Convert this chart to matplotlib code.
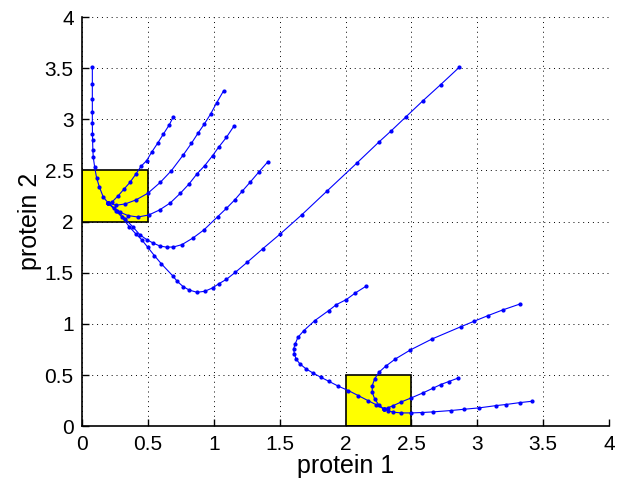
import matplotlib.pyplot as plt
from matplotlib.patches import Rectangle

plt.rcParams["font.family"] = ["Liberation Sans", "DejaVu Sans"]

# trajectories converging to the upper-left steady state
t1_p1 = [0.078, 0.078, 0.078, 0.078, 0.078, 0.079, 0.080, 0.082, 0.085, 0.096, 0.110, 0.131, 0.161, 0.200]
t1_p2 = [3.51, 3.345, 3.20, 3.07, 2.96, 2.86, 2.80, 2.70, 2.63, 2.53, 2.43, 2.34, 2.24, 2.18]

t2_p1 = [0.693, 0.663, 0.618, 0.573, 0.528, 0.490, 0.448, 0.409, 0.364, 0.319, 0.275, 0.230, 0.200]
t2_p2 = [3.026, 2.948, 2.857, 2.765, 2.678, 2.596, 2.541, 2.466, 2.384, 2.319, 2.254, 2.195, 2.180]

t3_p1 = [1.075, 1.021, 0.976, 0.928, 0.881, 0.830, 0.770, 0.678, 0.594, 0.499, 0.409, 0.328, 0.260, 0.200]
t3_p2 = [3.28, 3.16, 3.052, 2.954, 2.866, 2.765, 2.655, 2.498, 2.384, 2.277, 2.212, 2.173, 2.160, 2.180]

t4_p1 = [1.155, 1.096, 1.036, 0.991, 0.931, 0.872, 0.812, 0.746, 0.669, 0.588, 0.507, 0.424, 0.349, 0.290, 0.239, 0.200]
t4_p2 = [2.938, 2.824, 2.726, 2.645, 2.547, 2.466, 2.368, 2.277, 2.182, 2.114, 2.065, 2.045, 2.059, 2.091, 2.134, 2.180]

t5_p1 = [1.409, 1.340, 1.275, 1.215, 1.161, 1.096, 1.030, 0.925, 0.842, 0.758, 0.693, 0.643, 0.590, 0.540, 0.490, 0.440,
         0.388, 0.328, 0.269, 0.200]
t5_p2 = [2.583, 2.482, 2.384, 2.296, 2.215, 2.130, 2.049, 1.919, 1.840, 1.775, 1.752, 1.750, 1.762, 1.790, 1.825, 1.870,
         1.945, 2.026, 2.107, 2.180]

t6_p1 = [2.863, 2.722, 2.588, 2.460, 2.343, 2.251, 2.084, 1.857, 1.669, 1.504, 1.370, 1.254, 1.164, 1.096, 1.036, 0.991,
         0.931, 0.872, 0.812, 0.767, 0.722, 0.687, 0.603, 0.549, 0.499, 0.454, 0.409, 0.358, 0.304, 0.260, 0.200]
t6_p2 = [3.508, 3.339, 3.182, 3.026, 2.883, 2.775, 2.570, 2.296, 2.068, 1.879, 1.733, 1.603, 1.505, 1.436, 1.391, 1.352,
         1.319, 1.309, 1.332, 1.365, 1.417, 1.472, 1.586, 1.668, 1.749, 1.821, 1.879, 1.951, 2.042, 2.101, 2.180]

# trajectories converging to the lower-right steady state
b1_p1 = [2.155, 2.075, 2.006, 1.931, 1.872, 1.767, 1.684, 1.639, 1.618, 1.606, 1.612, 1.624, 1.654, 1.701, 1.752, 1.812,
         1.872, 1.946, 2.021, 2.096, 2.170, 2.230, 2.290]
b1_p2 = [1.368, 1.303, 1.238, 1.189, 1.130, 1.033, 0.935, 0.870, 0.805, 0.756, 0.707, 0.658, 0.609, 0.560, 0.521, 0.479,
         0.440, 0.391, 0.349, 0.300, 0.251, 0.212, 0.169]

b2_p1 = [3.325, 3.194, 3.081, 2.976, 2.878, 2.657, 2.493, 2.379, 2.304, 2.254, 2.221, 2.203, 2.203, 2.221, 2.251, 2.290]
b2_p2 = [1.195, 1.137, 1.081, 1.026, 0.974, 0.853, 0.746, 0.658, 0.586, 0.528, 0.463, 0.397, 0.332, 0.267, 0.212, 0.169]

b3_p1 = [2.851, 2.782, 2.722, 2.663, 2.588, 2.499, 2.424, 2.364, 2.319, 2.290]
b3_p2 = [0.469, 0.436, 0.407, 0.371, 0.326, 0.277, 0.238, 0.202, 0.179, 0.169]

b4_p1 = [3.415, 3.325, 3.215, 3.146, 3.012, 2.901, 2.797, 2.663, 2.582, 2.499, 2.424, 2.364, 2.319, 2.290]
b4_p2 = [0.244, 0.231, 0.212, 0.202, 0.179, 0.166, 0.153, 0.140, 0.134, 0.130, 0.130, 0.137, 0.153, 0.169]

trajectories = [
    (t1_p1, t1_p2), (t2_p1, t2_p2), (t3_p1, t3_p2), (t4_p1, t4_p2),
    (t5_p1, t5_p2), (t6_p1, t6_p2),
    (b1_p1, b1_p2), (b2_p1, b2_p2), (b3_p1, b3_p2), (b4_p1, b4_p2),
]

# steady-state boxes: (p1 low, p2 low, width, height)
boxes = [(0.0, 2.0, 0.5, 0.5), (2.0, 0.0, 0.5, 0.5)]

ticks = [0, 0.5, 1, 1.5, 2, 2.5, 3, 3.5, 4]
tick_labels = ["0", "0.5", "1", "1.5", "2", "2.5", "3", "3.5", "4"]

fig = plt.figure(figsize=(6.17, 4.86), dpi=100)
ax = fig.add_axes([0.133, 0.123, 0.854, 0.842])

for x0, y0, w, h in boxes:
    ax.add_patch(Rectangle((x0, y0), w, h, facecolor="yellow",
                           edgecolor="black", lw=1.2, zorder=2))

for p1, p2 in trajectories:
    ax.plot(p1, p2, color="blue", lw=0.8, marker=".", ms=4, zorder=3)

ax.set_xlim(0, 4)
ax.set_ylim(0, 4)
ax.set_xticks(ticks)
ax.set_yticks(ticks)
ax.set_xticklabels(tick_labels)
ax.set_yticklabels(tick_labels)
ax.tick_params(direction="in", labelsize=15, length=5, width=1, pad=6)
ax.grid(True, ls=(0, (1, 4)), color="black", lw=0.7)
ax.set_axisbelow(True)
for side in ("top", "right"):
    ax.spines[side].set_visible(False)
for side in ("left", "bottom"):
    ax.spines[side].set_linewidth(1.2)

ax.set_xlabel("protein 1", fontsize=18, labelpad=0)
ax.set_ylabel("protein 2", fontsize=18, labelpad=2)

fig.savefig("out.png", dpi=100)
